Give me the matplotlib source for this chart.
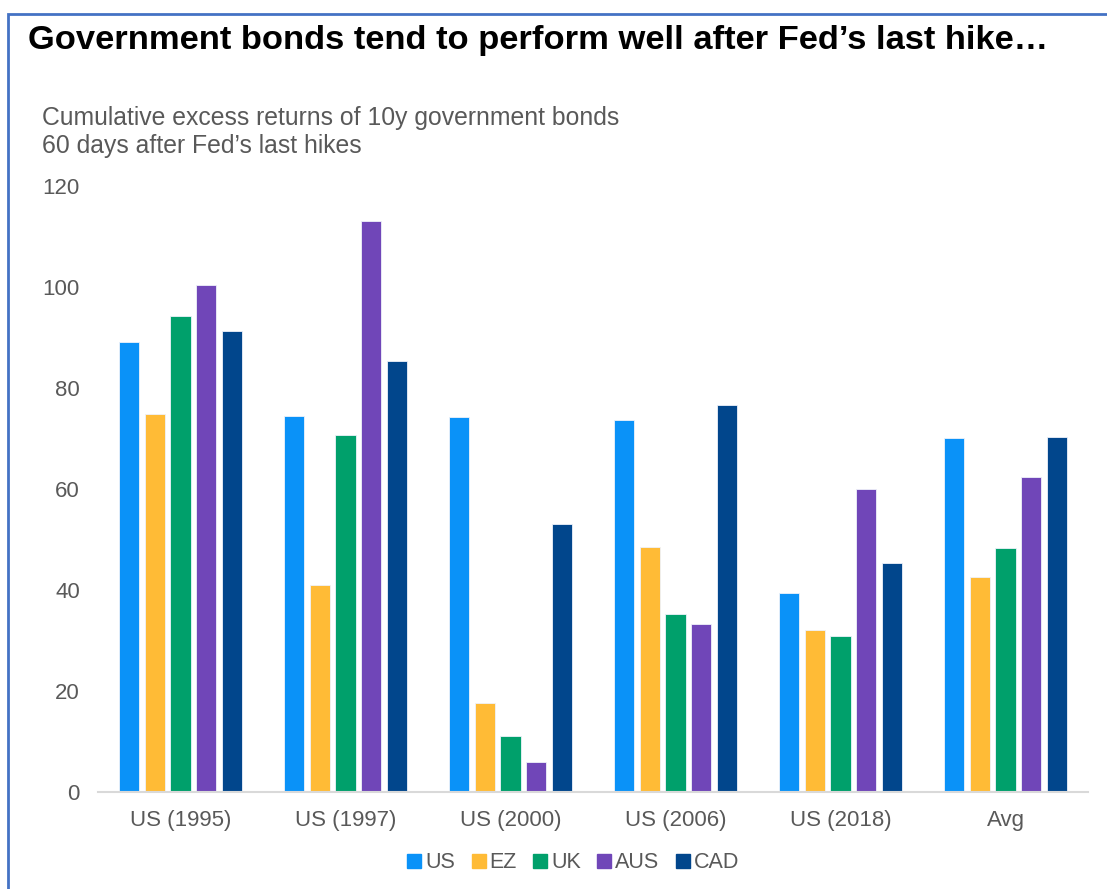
import matplotlib.pyplot as plt
import numpy as np
from matplotlib.lines import Line2D
from matplotlib.patches import Rectangle

plt.rcParams["font.family"] = ["Liberation Sans", "DejaVu Sans"]

EPISODES = ["US (1995)", "US (1997)", "US (2000)", "US (2006)", "US (2018)", "Avg"]
MARKETS = ["US", "EZ", "UK", "AUS", "CAD"]
COLORS = ["#0A92F8", "#FFBB36", "#00A06B", "#7046B8", "#01468C"]

us = [89.1, 74.5, 74.3, 73.7, 39.5, 70.1]
ez = [74.9, 41.0, 17.6, 48.6, 32.1, 42.6]
uk = [94.3, 70.7, 11.1, 35.2, 30.9, 48.4]
aus = [100.4, 113.0, 5.9, 33.2, 60.0, 62.4]
cad = [91.3, 85.3, 53.0, 76.6, 45.4, 70.2]
SERIES = [us, ez, uk, aus, cad]

Y_TICKS = [0, 20, 40, 60, 80, 100, 120]

TEXT_GREY = "#595959"
W, H = 1107, 889

fig = plt.figure(figsize=(W / 100, H / 100), dpi=100)
ax = fig.add_axes([98 / W, 1 - 792 / H, (1088 - 98) / W, (792 - 186) / H])

x = np.arange(len(EPISODES))
width = 0.122
pitch = 0.155
for i, (name, vals, color) in enumerate(zip(MARKETS, SERIES, COLORS)):
    offset = (i - 2) * pitch
    ax.bar(x + offset, vals, width, color=color, edgecolor="#EEF2FA",
           linewidth=0.6, label=name, zorder=2)

ax.set_xlim(-0.5, len(EPISODES) - 0.5)
ax.set_ylim(0, 120)
ax.set_yticks(Y_TICKS)
ax.set_xticks(x)
ax.set_xticklabels(EPISODES)
ax.tick_params(axis="both", length=0, labelsize=16, labelcolor=TEXT_GREY)
ax.tick_params(axis="y", pad=13)
ax.tick_params(axis="x", pad=13)
for side in ["top", "right", "left"]:
    ax.spines[side].set_visible(False)
ax.spines["bottom"].set_color("#D9D9D9")
ax.spines["bottom"].set_linewidth(1.5)

handles = [Line2D([], [], marker="s", linestyle="none", markersize=9.5,
                  markerfacecolor=c, markeredgecolor=c) for c in COLORS]
fig.legend(handles, MARKETS, loc="center", bbox_to_anchor=(573 / W, 1 - 863 / H),
           ncol=5, frameon=False, fontsize=15.5, handlelength=0.7, handletextpad=0.15,
           columnspacing=0.75, labelcolor=TEXT_GREY)

fig.text(28 / W, 1 - 40 / H, "Government bonds tend to perform well after Fed\u2019s last hike\u2026",
         fontsize=24.8, fontweight="bold", color="black", va="center", ha="left")
fig.text(42 / W, 1 - 132 / H,
         "Cumulative excess returns of 10y government bonds\n60 days after Fed\u2019s last hikes",
         fontsize=17.8, color=TEXT_GREY, va="center", ha="left", linespacing=1.22)

# blue frame around the slide
fig.add_artist(Rectangle((8 / W, -0.05), 1.1, 1 - 14 / H + 0.05, transform=fig.transFigure,
                         fill=False, edgecolor="#4472C4", linewidth=2))

fig.savefig("out.png", dpi=100)
